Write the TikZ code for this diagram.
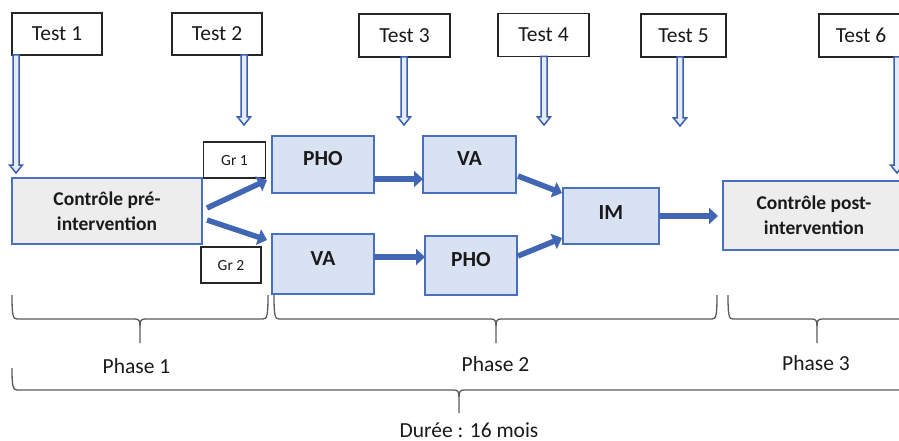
\documentclass[tikz,border=0pt]{standalone}
\usepackage{fontspec}
\setmainfont{Carlito}
\usetikzlibrary{arrows.meta,calc}
\definecolor{boxblue}{HTML}{4A6FBF}
\definecolor{arrowblue}{HTML}{4066B4}
\definecolor{hollowline}{HTML}{3A5FAE}
\definecolor{lightfill}{HTML}{D9E2F3}
\definecolor{grayfill}{HTML}{EDEDED}
\definecolor{hollowfill}{HTML}{E6ECF7}
\definecolor{bracegray}{HTML}{5A5A5A}
\definecolor{txt}{HTML}{1A1A1A}
\tikzset{
  base/.style={inner sep=0pt, outer sep=0pt, text=txt},
  testbox/.style={base, draw=black!85, line width=1.2pt, fill=white,
    font=\fontsize{21.5}{24}\selectfont, text height=13.5pt, text depth=0pt},
  grbox/.style={base, draw=black!85, line width=1.1pt, fill=white,
    minimum width=62pt, minimum height=36pt,
    font=\fontsize{15.5}{18}\selectfont, text height=10pt, text depth=0pt},
  stepbox/.style={base, draw=boxblue, line width=1.8pt, fill=lightfill,
    font=\bfseries\fontsize{21.5}{24}\selectfont, text height=14pt, text depth=12pt},
  ctrlbox/.style={base, draw=boxblue, line width=1.8pt, fill=grayfill,
    align=center, font=\bfseries\fontsize{19.5}{25}\selectfont},
  lbl/.style={base, anchor=base, font=\fontsize{21.5}{24}\selectfont},
  fat/.style={draw=arrowblue, line width=5.5pt, -{Triangle[length=9pt,width=16pt]}},
  hollow/.style={draw=hollowline, fill=hollowfill, line width=1.5pt,
    to path={let \p1=(\tikztostart), \p2=(\tikztotarget) in
      (\x1-3pt,\y1) -- (\x1+3pt,\y1) -- (\x1+3pt,\y2+8pt) -- (\x1+6.5pt,\y2+8pt)
      -- (\x1,\y2) -- (\x1-6.5pt,\y2+8pt) -- (\x1-3pt,\y2+8pt) -- cycle}},
  bracestyle/.style={draw=bracegray, line width=1.3pt}
}
\newcommand{\phbrace}[6]{% x1, x2, xm, ytop, yline, ybottom
  \draw[bracestyle] (#1,#4) .. controls (#1,#5-3) and (#1+1,#5) .. (#1+5,#5)
    -- (#3-5,#5) .. controls (#3-1,#5) and (#3,#5+2) .. (#3,#5+7) -- (#3,#6);
  \draw[bracestyle] (#2,#4) .. controls (#2,#5-3) and (#2-1,#5) .. (#2-5,#5)
    -- (#3+5,#5) .. controls (#3+1,#5) and (#3,#5+2) .. (#3,#5+7);
}
\begin{document}
\begin{tikzpicture}[x=1pt,y=-1pt]
\clip (0,0) rectangle (899,441);
\fill[white] (0,0) rectangle (899,441);

% test boxes
\node[testbox, minimum width=90pt, minimum height=42pt] (t1) at (57,34) {Test 1};
\node[testbox, minimum width=90pt, minimum height=42pt] (t2) at (217,34) {Test 2};
\node[testbox, minimum width=91pt, minimum height=43pt] (t3) at (404.5,35.5) {Test 3};
\node[testbox, minimum width=91pt, minimum height=43pt] (t4) at (543.5,35) {Test 4};
\node[testbox, minimum width=85pt, minimum height=43pt] (t5) at (683.5,35.5) {Test 5};
\node[testbox, minimum width=84pt, minimum height=43pt] (t6) at (861,35.5) {Test 6};

% main boxes
\node[ctrlbox, minimum width=190pt, minimum height=66pt] (pre) at (107,211) {Contrôle pré-\\intervention};
\node[stepbox, minimum width=102pt, minimum height=57pt] (pho1) at (323,164.5) {PHO};
\node[stepbox, minimum width=93pt, minimum height=57pt] (va2) at (469.5,164.5) {VA};
\node[stepbox, minimum width=102pt, minimum height=60pt] (va1) at (323,264) {VA};
\node[stepbox, minimum width=92pt, minimum height=59pt] (pho2) at (471,265.5) {PHO};
\node[stepbox, minimum width=96pt, minimum height=56pt, text depth=8pt] (im) at (611,216) {IM};
\node[ctrlbox, minimum width=182pt, minimum height=69pt] (post) at (814,215.5) {Contrôle post-\\intervention};

\node[grbox] (gr1) at (234.5,160) {Gr 1};
\node[grbox, minimum width=60pt] (gr2) at (231,265) {Gr 2};

% free ends of test arrows
\coordinate (e2) at (244,125);
\coordinate (e3) at (404,125);
\coordinate (e4) at (544,125);
\coordinate (e5) at (680,126);
\coordinate (e6) at (897,173);

% hollow test arrows
\path[hollow] ([xshift=4pt]t1.south west) to ([xshift=4pt,yshift=5pt]pre.north west);
\path[hollow] ([xshift=27pt]t2.south) to (e2);
\path[hollow] ([xshift=-0.5pt]t3.south) to (e3);
\path[hollow] ([xshift=0.5pt]t4.south) to (e4);
\path[hollow] ([xshift=-3.5pt]t5.south) to (e5);
\path[hollow] ([xshift=-6pt]t6.south east) to (e6);

% thick arrows
\draw[fat] ([xshift=5pt,yshift=3pt]pre.east) -- ([xshift=-5pt,yshift=-15.5pt]pho1.west);
\draw[fat] ([xshift=5pt,yshift=-9pt]pre.east) -- ([xshift=-5pt,yshift=24pt]va1.west);
\draw[fat] ([yshift=-14.5pt]pho1.east) -- ([yshift=-14.5pt]va2.west);
\draw[fat] ([yshift=7pt]va1.east) -- ([yshift=7pt]va1.east -| pho2.west);
\draw[fat] ([xshift=2pt,yshift=-11.5pt]va2.east) -- ([xshift=-1pt,yshift=23pt]im.west);
\draw[fat] ([xshift=1pt,yshift=9.5pt]pho2.east) -- ([xshift=-1pt,yshift=-22pt]im.west);
\draw[fat, shorten >=5pt] (im.east) -- (im.east -| post.west);

% braces
\phbrace{12}{268}{140}{295}{319}{343}
\phbrace{274}{717}{496}{295}{319}{343}
\phbrace{728}{906}{817}{295}{319}{343}
\phbrace{12}{906}{459}{368}{390}{413}

% labels
\node[lbl] (p1) at (136.5,373) {Phase 1};
\node[lbl] (p2) at (495.5,371) {Phase 2};
\node[lbl] (p3) at (816,370) {Phase 3};
\node[lbl] (dur) at (469,437) {Durée : 16 mois};
\end{tikzpicture}
\end{document}
